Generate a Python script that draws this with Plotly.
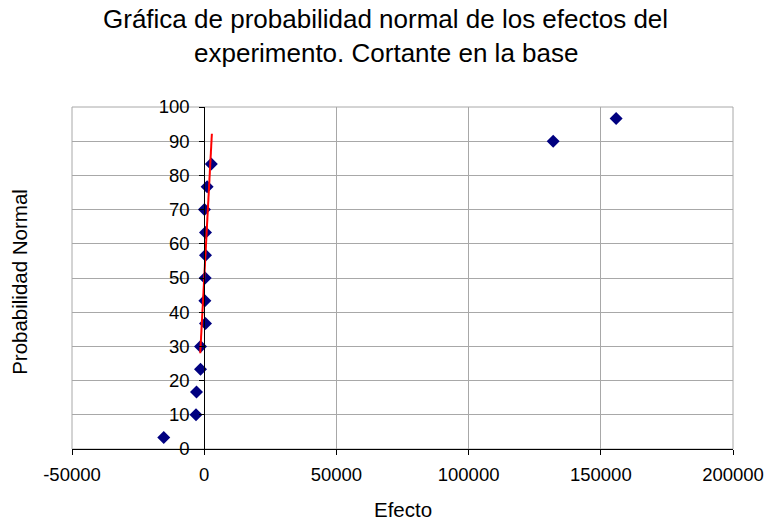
import plotly.graph_objects as go

# Data
efecto = [-15300, -3100, -2900, -1400, -1400, 500, 250, 370, 500, 500, 100, 1100, 2700, 132000, 155800]
prob_normal = [3.333, 10, 16.667, 23.333, 30, 36.667, 43.333, 50, 56.667, 63.333, 70, 76.667, 83.333, 90, 96.667]
trend_x = [-1500, 2900]
trend_y = [28, 92.2]
x_tickvals = [-50000, 0, 50000, 100000, 150000, 200000]
x_ticktext = ["-50000", "0", "50000", "100000", "150000", "200000"]
y_tickvals = [0, 10, 20, 30, 40, 50, 60, 70, 80, 90, 100]
title_lines = ["Gráfica de probabilidad normal de los efectos del",
               "experimento. Cortante en la base"]

FONT = "Liberation Sans, Arial, sans-serif"
GRID = "#a8a8a8"

fig = go.Figure()
fig.add_trace(go.Scatter(
    x=efecto, y=prob_normal, mode="markers",
    marker=dict(symbol="diamond", size=10, color="#000080", line=dict(width=0)),
    showlegend=False, cliponaxis=False,
))
fig.add_trace(go.Scatter(
    x=trend_x, y=trend_y, mode="lines",
    line=dict(color="#ff0000", width=2), showlegend=False,
))

fig.update_layout(
    width=768, height=514,
    margin=dict(l=64, r=35, t=99, b=73),
    paper_bgcolor="white", plot_bgcolor="white",
    font=dict(family=FONT, color="black"),
    xaxis=dict(
        range=[-50000, 200000], tickvals=x_tickvals, ticktext=x_ticktext,
        showgrid=True, gridcolor=GRID, gridwidth=1, zeroline=False,
        showline=True, linecolor="black", linewidth=1,
        ticks="outside", ticklen=5, tickcolor="black", tickwidth=1,
        tickfont=dict(family=FONT, size=18.5, color="black"),
        ticklabelstandoff=4,
    ),
    yaxis=dict(
        range=[0, 100], tickvals=y_tickvals,
        showgrid=True, gridcolor=GRID, gridwidth=1, zeroline=False,
        anchor="free", position=0.2,
        showline=True, linecolor="black", linewidth=1,
        ticks="outside", ticklen=5, tickcolor="black", tickwidth=1,
        tickfont=dict(family=FONT, size=18.5, color="black"),
        ticklabelstandoff=6,
    ),
    shapes=[dict(type="rect", xref="paper", yref="paper", x0=0, x1=1, y0=0, y1=1,
                 line=dict(color=GRID, width=1), layer="below")],
    annotations=[
        dict(text=title_lines[0], xref="paper", yref="paper", x=0.4746, y=1.2582,
             xanchor="center", yanchor="middle", showarrow=False,
             font=dict(family=FONT, size=26, color="black")),
        dict(text=title_lines[1], xref="paper", yref="paper", x=0.4746, y=1.1588,
             xanchor="center", yanchor="middle", showarrow=False,
             font=dict(family=FONT, size=26, color="black")),
        dict(text="Efecto", xref="paper", yref="paper", x=0.5, y=-0.176,
             xanchor="center", yanchor="middle", showarrow=False,
             font=dict(family=FONT, size=20.5, color="black")),
        dict(text="Probabilidad Normal", xref="paper", yref="paper", x=-0.0785, y=0.489,
             xanchor="center", yanchor="middle", textangle=-90, showarrow=False,
             font=dict(family=FONT, size=20.5, color="black")),
    ],
)

fig.write_html("out.html")
